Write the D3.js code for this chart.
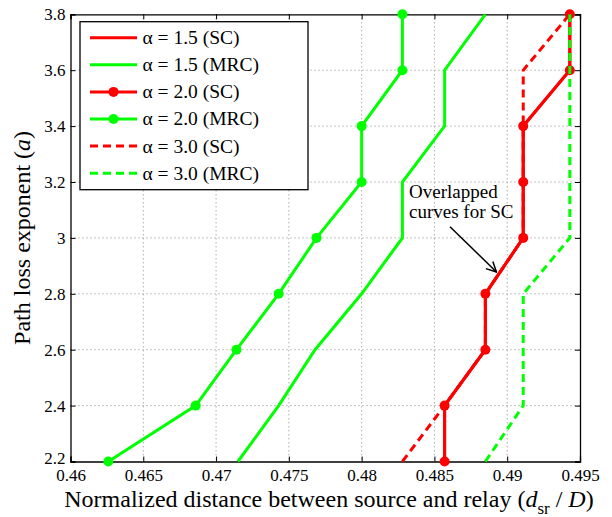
<!DOCTYPE html>
<html>
<head>
<meta charset="utf-8">
<script src="https://cdn.jsdelivr.net/npm/d3@7"></script>
<style>
  body { margin: 0; background: #fff; }
  svg text { font-family: "Liberation Serif", "Times New Roman", serif; fill: #000; }
</style>
</head>
<body>
<script>
// path loss exponent (y) and normalized relay position (x) for each curve
const pathLoss = [2.2, 2.4, 2.6, 2.8, 3.0, 3.2, 3.4, 3.6, 3.8];
const sc15  = [0.4857, 0.4857, 0.4885, 0.4885, 0.4911, 0.4911, 0.4911, 0.4943, 0.4943];
const mrc15 = [0.4715, 0.4743, 0.4768, 0.4800, 0.4828, 0.4828, 0.4857, 0.4857, 0.4885];
const sc20  = [0.4857, 0.4857, 0.4885, 0.4885, 0.4911, 0.4911, 0.4911, 0.4943, 0.4943];
const mrc20 = [0.4626, 0.4686, 0.4714, 0.4743, 0.4769, 0.4800, 0.4800, 0.4828, 0.4828];
const sc30  = [0.4828, 0.4857, 0.4885, 0.4885, 0.4911, 0.4911, 0.4911, 0.4911, 0.4943];
const mrc30 = [0.4885, 0.4911, 0.4911, 0.4911, 0.4943, 0.4943, 0.4943, 0.4943, 0.4943];

const xTicks = [0.46, 0.465, 0.47, 0.475, 0.48, 0.485, 0.49, 0.495];
const yTicks = [2.2, 2.4, 2.6, 2.8, 3.0, 3.2, 3.4, 3.6, 3.8];
const seriesNames = ["\u03B1 = 1.5 (SC)", "\u03B1 = 1.5 (MRC)", "\u03B1 = 2.0 (SC)",
                     "\u03B1 = 2.0 (MRC)", "\u03B1 = 3.0 (SC)", "\u03B1 = 3.0 (MRC)"];

const red = "#ff0000";
const green = "#00ff00";

const w = 612, h = 517;
const pLeft = 70.5, pRight = 580, pTop = 14.3, pBottom = 461.5;

const svg = d3.select("body").append("svg")
  .attr("width", w)
  .attr("height", h);

const x = d3.scaleLinear().domain([0.46, 0.495]).range([pLeft, pRight]);
const y = d3.scaleLinear().domain([2.2, 3.8]).range([pBottom, pTop]);

// dotted grid
svg.append("g").selectAll("line")
  .data(xTicks.slice(1, -1))
  .enter().append("line")
  .attr("x1", d => x(d)).attr("x2", d => x(d))
  .attr("y1", pTop).attr("y2", pBottom)
  .attr("stroke", "#888").attr("stroke-width", 1)
  .attr("stroke-dasharray", "1,3");
svg.append("g").selectAll("line")
  .data(yTicks.slice(1, -1))
  .enter().append("line")
  .attr("x1", pLeft).attr("x2", pRight)
  .attr("y1", d => y(d)).attr("y2", d => y(d))
  .attr("stroke", "#888").attr("stroke-width", 1)
  .attr("stroke-dasharray", "1,3");

// axes with inward ticks
const tickLen = 5;
const xAxis = d3.axisBottom(x).tickValues(xTicks).tickSize(-tickLen).tickPadding(9)
  .tickFormat(d => d3.format("")(+d.toFixed(3)));
const yAxis = d3.axisLeft(y).tickValues(yTicks).tickSize(-tickLen).tickPadding(5)
  .tickFormat(d => d3.format("")(+d.toFixed(1)));

const gx = svg.append("g").attr("transform", `translate(0,${pBottom})`).call(xAxis);
const gy = svg.append("g").attr("transform", `translate(${pLeft},0)`).call(yAxis);
svg.append("g").attr("transform", `translate(0,${pTop})`)
  .call(d3.axisTop(x).tickValues(xTicks).tickSize(-tickLen).tickFormat(""));
svg.append("g").attr("transform", `translate(${pRight},0)`)
  .call(d3.axisRight(y).tickValues(yTicks).tickSize(-tickLen).tickFormat(""));

svg.selectAll(".domain").attr("stroke", "#000").attr("stroke-width", 1.3);
svg.selectAll(".tick line").attr("stroke", "#000");
gx.selectAll("text").style("font-size", "17px").attr("dy", "0.6em");
gy.selectAll("text").style("font-size", "17px");
// lowest y label sits just above the first x label
gy.selectAll("text").filter(d => d === 2.2).attr("dy", "0.12em");

// curves
const line = d3.line()
  .x(d => x(d[0]))
  .y(d => y(d[1]));

const series = [
  { vals: sc15,  color: red,   dash: null,  marker: false },
  { vals: mrc15, color: green, dash: null,  marker: false },
  { vals: sc20,  color: red,   dash: null,  marker: true },
  { vals: mrc20, color: green, dash: null,  marker: true },
  { vals: sc30,  color: red,   dash: "8,5", marker: false },
  { vals: mrc30, color: green, dash: "8,5", marker: false }
];

series.forEach(s => {
  const pts = s.vals.map((v, i) => [v, pathLoss[i]]);
  svg.append("path")
    .datum(pts)
    .attr("d", line)
    .attr("fill", "none")
    .attr("stroke", s.color)
    .attr("stroke-width", 3)
    .attr("stroke-dasharray", s.dash);
  if (s.marker) {
    svg.append("g").selectAll("circle")
      .data(pts)
      .enter().append("circle")
      .attr("cx", d => x(d[0]))
      .attr("cy", d => y(d[1]))
      .attr("r", 5)
      .attr("fill", s.color);
  }
});

// legend
const lg = svg.append("g").attr("transform", "translate(80,21.7)");
lg.append("rect")
  .attr("width", 228).attr("height", 168)
  .attr("fill", "#fff").attr("stroke", "#000").attr("stroke-width", 1.3);
const item = lg.selectAll("g.item")
  .data(seriesNames)
  .enter().append("g")
  .attr("class", "item")
  .attr("transform", (d, i) => `translate(0,${16 + i * 27.1})`);
item.append("line")
  .attr("x1", 10).attr("x2", 57)
  .attr("stroke", (d, i) => series[i].color)
  .attr("stroke-width", 3)
  .attr("stroke-dasharray", (d, i) => series[i].dash);
item.filter((d, i) => series[i].marker).append("circle")
  .attr("cx", 33.5).attr("r", 5)
  .attr("fill", (d, i) => i === 0 ? red : green);
item.append("text")
  .attr("x", 62.5).attr("dy", "0.33em")
  .style("font-size", "19.5px")
  .text(d => d);

// annotation
const ann = svg.append("text").style("font-size", "19px");
ann.append("tspan").attr("x", 409).attr("y", 198).text("Overlapped");
ann.append("tspan").attr("x", 409).attr("y", 218).text("curves for SC");
svg.append("defs").append("marker")
  .attr("id", "arrow")
  .attr("viewBox", "0 0 12 12")
  .attr("refX", 11).attr("refY", 6)
  .attr("markerWidth", 12).attr("markerHeight", 12)
  .attr("markerUnits", "userSpaceOnUse")
  .attr("orient", "auto")
  .append("path")
  .attr("d", "M1,1 L11,6 L1,11")
  .attr("fill", "none").attr("stroke", "#000").attr("stroke-width", 1.5);
svg.append("line")
  .attr("x1", 450).attr("y1", 226.7)
  .attr("x2", 496.5).attr("y2", 272)
  .attr("stroke", "#000").attr("stroke-width", 1.5)
  .attr("marker-end", "url(#arrow)");

// axis titles
const xt = svg.append("text")
  .attr("x", 329).attr("y", 507)
  .attr("text-anchor", "middle")
  .style("font-size", "24px");
xt.append("tspan").text("Normalized distance between source and relay (");
xt.append("tspan").style("font-style", "italic").text("d");
xt.append("tspan").attr("dy", 7).style("font-size", "17px").text("sr");
xt.append("tspan").attr("dy", -7).text(" / ");
xt.append("tspan").style("font-style", "italic").text("D");
xt.append("tspan").text(")");

const yt = svg.append("text")
  .attr("transform", `translate(30,${(pTop + pBottom) / 2}) rotate(-90)`)
  .attr("text-anchor", "middle")
  .style("font-size", "24px");
yt.append("tspan").text("Path loss exponent (");
yt.append("tspan").style("font-style", "italic").text("a");
yt.append("tspan").text(")");
</script>
</body>
</html>
